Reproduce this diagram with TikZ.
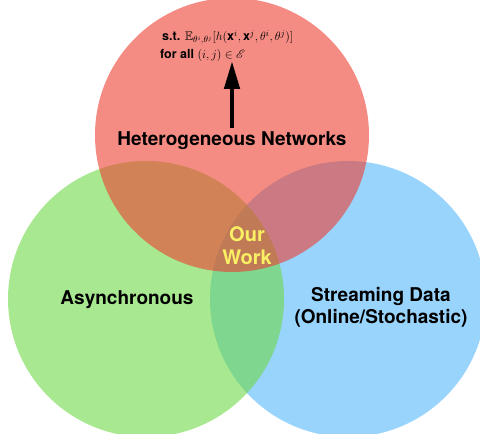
\documentclass[tikz,border=0pt]{standalone}
\usepackage{fontspec}
\setmainfont{TeX Gyre Heros}
\usepackage{amssymb}
\usepackage{mathrsfs}
\usepackage{tikz}
\usetikzlibrary{arrows.meta}

\begin{document}
\begin{tikzpicture}[x=1pt,y=1pt]

% Colori
\definecolor{colRed}{HTML}{ED3F32}
\definecolor{colGreen}{HTML}{6ED946}
\definecolor{colBlue}{HTML}{53B7FA}
\definecolor{colYellow}{HTML}{FAF064}

\useasboundingbox (0,0) rectangle (480,434);

% Cerchi
\fill[colBlue, fill opacity=0.6] (348,135) circle (138);
\fill[colGreen, fill opacity=0.6] (146,135) circle (138);
\fill[colRed, fill opacity=0.6] (232,299) circle (137);

% Etichette
\node[font=\fontsize{19}{22}\selectfont\bfseries] (het) at (232,293) {Heterogeneous Networks};
\node[font=\fontsize{19}{22}\selectfont\bfseries] (asy) at (127,134) {Asynchronous};
\node[font=\fontsize{19}{22}\selectfont\bfseries, align=center] (str) at (381,127) {Streaming Data\\(Online/Stochastic)};
\node[font=\fontsize{20}{23}\selectfont\bfseries, text=colYellow, align=center] (our) at (247,188) {Our\\Work};

% Vincolo
\node[font=\fontsize{12.5}{18}\selectfont\bfseries, align=left, anchor=north west, inner sep=0pt] (st) at (160,404)
  {\hspace{2pt}s.t. $\mathbb{E}_{\theta^i,\theta^j}[h(\mathbf{x}^i,\mathbf{x}^j,\theta^i,\theta^j)]$\\
   for all $(i,j)\in\mathscr{E}$};
\coordinate (tip) at (232,373);

\draw[line width=4.7pt, -{Triangle[length=28pt,width=15pt]}] (het.north) -- (tip);

\end{tikzpicture}
\end{document}
